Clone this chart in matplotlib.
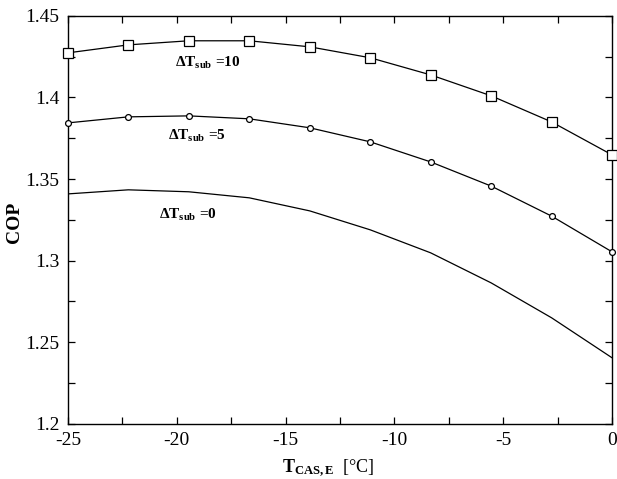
import matplotlib

matplotlib.use("Agg")
import matplotlib.pyplot as plt
import numpy as np
from matplotlib.ticker import MultipleLocator

plt.rcParams["font.family"] = "Liberation Serif"
plt.rcParams["mathtext.fontset"] = "custom"
plt.rcParams["mathtext.rm"] = "Liberation Serif"
plt.rcParams["mathtext.bf"] = "Liberation Serif:bold"
plt.rcParams["mathtext.it"] = "Liberation Serif:italic"

# evaporator temperature [°C]
t_evap = np.linspace(-25, 0, 10)
# COP for each subcooling level
cop_sub10 = [1.4273, 1.4322, 1.4347, 1.4347, 1.4310, 1.4243, 1.4138, 1.4010, 1.3850, 1.3648]
cop_sub5 = [1.3844, 1.3881, 1.3887, 1.3869, 1.3814, 1.3728, 1.3605, 1.3457, 1.3273, 1.3054]
cop_sub0 = [1.3409, 1.3434, 1.3422, 1.3385, 1.3305, 1.3189, 1.3048, 1.2864, 1.2650, 1.2405]

labels = [r"$\mathbf{\Delta T_{sub}}$ =10", r"$\mathbf{\Delta T_{sub}}$ =5", r"$\mathbf{\Delta T_{sub}}$ =0"]
label_pos = [(-20.1, 1.4212), (-20.4, 1.3765), (-20.8, 1.3280)]

fig = plt.figure(figsize=(6.17, 4.79), dpi=100)
ax = fig.add_axes([0.110, 0.115, 0.882, 0.852])

ax.plot(t_evap, cop_sub10, color="black", lw=0.9, marker="s", ms=6.5,
        mfc="white", mec="black", mew=0.9, clip_on=False, zorder=3)
ax.plot(t_evap, cop_sub5, color="black", lw=0.9, marker="o", ms=4.2,
        mfc="white", mec="black", mew=0.9, clip_on=False, zorder=3)
ax.plot(t_evap, cop_sub0, color="black", lw=0.9)

for txt, (x, y) in zip(labels, label_pos):
    ax.text(x, y, txt, fontsize=11, fontweight="bold", ha="left", va="center")

ax.set_xlim(-25, 0)
ax.set_ylim(1.2, 1.45)
ax.xaxis.set_minor_locator(MultipleLocator(2.5))
ax.yaxis.set_minor_locator(MultipleLocator(0.025))
ax.set_yticks([1.2, 1.25, 1.3, 1.35, 1.4, 1.45])
ax.set_yticklabels(["1.2", "1.25", "1.3", "1.35", "1.4", "1.45"])
ax.set_xticks([-25, -20, -15, -10, -5, 0])
ax.set_xticklabels(["-25", "-20", "-15", "-10", "-5", "0"])

ax.tick_params(which="both", direction="in", top=True, right=True, labelsize=14,
               width=0.9)
ax.tick_params(which="major", length=5, pad=6)
ax.tick_params(which="minor", length=5)
for s in ax.spines.values():
    s.set_linewidth(1.0)

ax.set_ylabel("COP", fontsize=14, fontweight="bold")
ax.yaxis.set_label_coords(-0.083, 0.495)
ax.set_xlabel(r"$\mathbf{T_{CAS,E}}$  [°C]", fontsize=13)
ax.xaxis.set_label_coords(0.478, -0.083)

fig.savefig("out.png", dpi=100)
